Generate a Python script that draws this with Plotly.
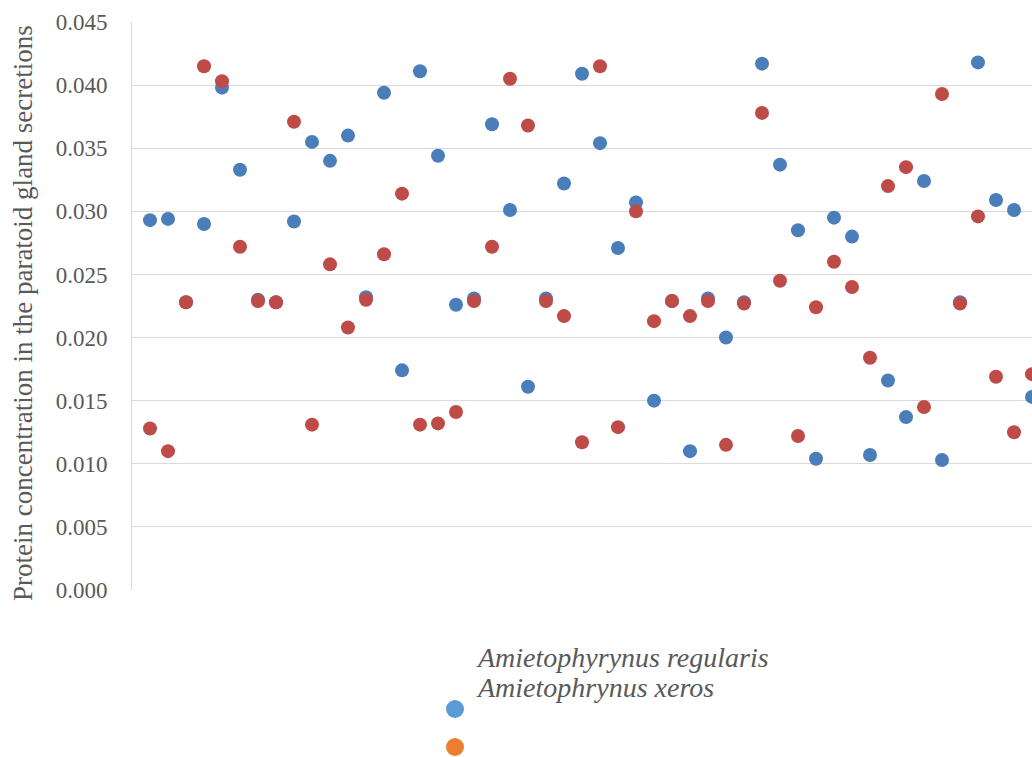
import plotly.graph_objects as go

series_names = ["Amietophyrynus regularis", "Amietophrynus xeros"]
sample_index = list(range(1, 51))
regularis = [0.0293, 0.0294, 0.0228, 0.0290, 0.0398, 0.0333, 0.0230, 0.0228, 0.0292, 0.0355,
             0.0340, 0.0360, 0.0232, 0.0394, 0.0174, 0.0411, 0.0344, 0.0226, 0.0231, 0.0369,
             0.0301, 0.0161, 0.0231, 0.0322, 0.0409, 0.0354, 0.0271, 0.0307, 0.0150, 0.0229,
             0.0110, 0.0231, 0.0200, 0.0228, 0.0417, 0.0337, 0.0285, 0.0104, 0.0295, 0.0280,
             0.0107, 0.0166, 0.0137, 0.0324, 0.0103, 0.0228, 0.0418, 0.0309, 0.0301, 0.0153]
xeros = [0.0128, 0.0110, 0.0228, 0.0415, 0.0403, 0.0272, 0.0229, 0.0228, 0.0371, 0.0131,
         0.0258, 0.0208, 0.0230, 0.0266, 0.0314, 0.0131, 0.0132, 0.0141, 0.0229, 0.0272,
         0.0405, 0.0368, 0.0229, 0.0217, 0.0117, 0.0415, 0.0129, 0.0300, 0.0213, 0.0229,
         0.0217, 0.0229, 0.0115, 0.0227, 0.0378, 0.0245, 0.0122, 0.0224, 0.0260, 0.0240,
         0.0184, 0.0320, 0.0335, 0.0145, 0.0393, 0.0227, 0.0296, 0.0169, 0.0125, 0.0171]
y_ticks = [0.000, 0.005, 0.010, 0.015, 0.020, 0.025, 0.030, 0.035, 0.040, 0.045]
y_title = "Protein concentration in the paratoid gland secretions"

W, H = 1032, 757
L, R, T, B = 132, 0, 22, 167
pw, ph = W - L - R, H - T - B

def px_x(x):
    return (x - L) / pw

def px_y(y):
    return (H - B - y) / ph

fig = go.Figure()
fig.add_trace(go.Scatter(x=sample_index, y=regularis, mode="markers", name=series_names[0],
                         marker=dict(size=14, color="#4A7EBB", line=dict(width=0))))
fig.add_trace(go.Scatter(x=sample_index, y=xeros, mode="markers", name=series_names[1],
                         marker=dict(size=14, color="#BE4B48", line=dict(width=0))))

font_serif = "Liberation Serif, Times New Roman, serif"
fig.update_layout(
    width=W, height=H,
    margin=dict(l=L, r=R, t=T, b=B),
    paper_bgcolor="white", plot_bgcolor="white",
    showlegend=False,
    xaxis=dict(range=[0, 50], showgrid=False, zeroline=False, showticklabels=False,
               showline=False, ticks=""),
    yaxis=dict(range=[0, 0.045], tickvals=y_ticks, tickformat=".3f",
               showgrid=True, gridcolor="#D9D9D9", gridwidth=1, zeroline=False,
               showline=True, linecolor="#D9D9D9", linewidth=1,
               tickfont=dict(family=font_serif, size=23, color="#595959"),
               ticks="", ticklen=0, ticklabelstandoff=19),
)

fig.add_annotation(xref="paper", yref="paper", x=px_x(23), y=px_y(313),
                   xanchor="center", yanchor="middle", showarrow=False, textangle=-90,
                   text=y_title, font=dict(family=font_serif, size=27, color="#595959"))

legend_colors = ["#5B9BD5", "#ED7D31"]
text_y = [657, 688]
marker_y = [709, 747]
for i, name in enumerate(series_names):
    fig.add_annotation(xref="paper", yref="paper", x=px_x(474), y=px_y(text_y[i]),
                       xanchor="left", yanchor="middle", showarrow=False,
                       text="<i>" + name + "</i>",
                       font=dict(family=font_serif, size=28, color="#595959"))
    fig.add_shape(type="circle", xref="paper", yref="paper",
                  xsizemode="pixel", ysizemode="pixel",
                  xanchor=px_x(455), yanchor=px_y(marker_y[i]),
                  x0=-9, x1=9, y0=-9, y1=9,
                  fillcolor=legend_colors[i], line=dict(width=0))

fig.write_html("out.html", config={"displayModeBar": False},
               post_script="document.body.style.margin='0';document.body.style.overflow='hidden';")
